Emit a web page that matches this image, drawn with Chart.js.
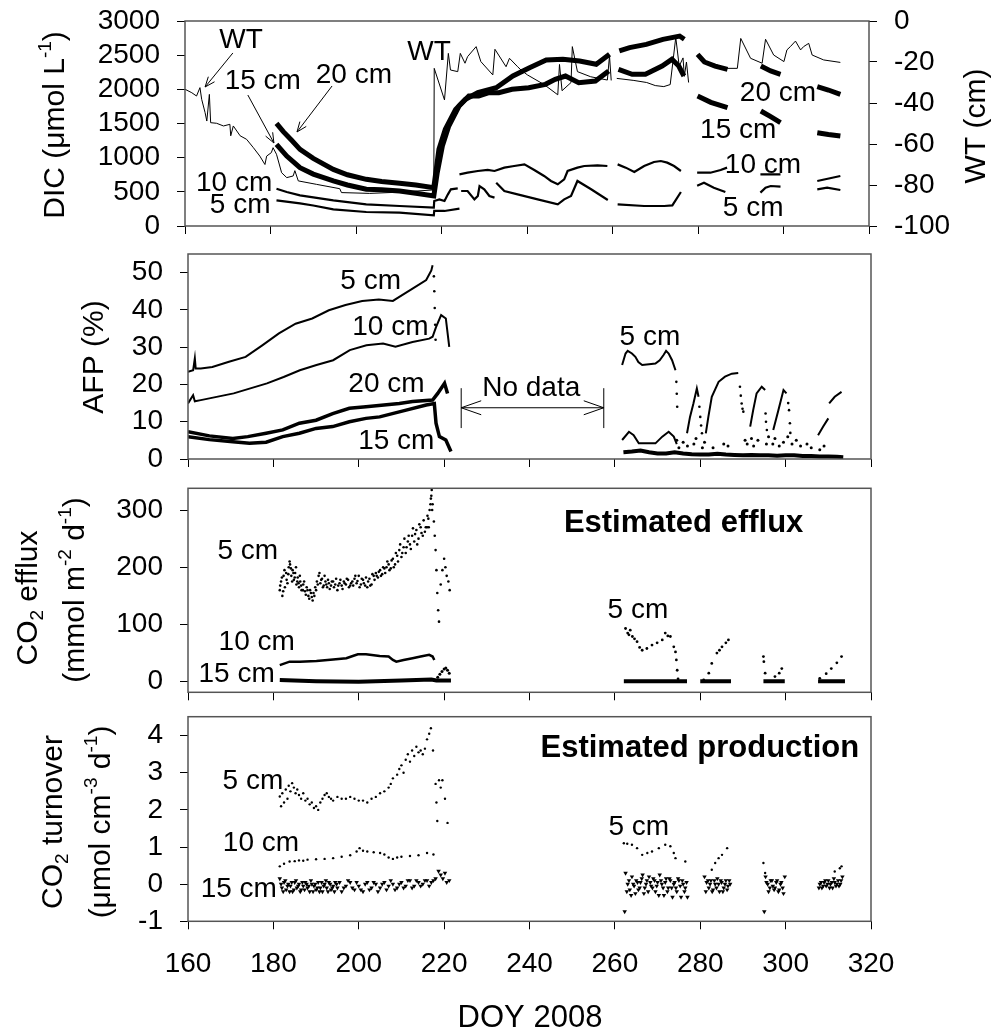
<!DOCTYPE html>
<html lang="en">
<head>
  <meta charset="UTF-8">
  <title>DIC, AFP and CO2 - DOY 2008</title>
  <script src="https://cdn.jsdelivr.net/npm/chart.js"></script>
  <style>
    body { margin: 0; background: #fff; }
    canvas.panel { position: absolute; left: 0; }
  </style>
</head>
<body>
  <canvas id="dicChart" class="panel" width="994" height="236" style="top:0px"></canvas>
  <canvas id="afpChart" class="panel" width="994" height="234" style="top:236px"></canvas>
  <canvas id="effluxChart" class="panel" width="994" height="232" style="top:470px"></canvas>
  <canvas id="prodChart" class="panel" width="994" height="334" style="top:702px"></canvas>

  <script>
    // ---------- axis ticks ----------
    const doyTicks = [160, 180, 200, 220, 240, 260, 280, 300, 320];
    const dicTicks = [0, 500, 1000, 1500, 2000, 2500, 3000];
    const wtTicks = [-100, -80, -60, -40, -20, 0];
    const afpTicks = [0, 10, 20, 30, 40, 50];
    const effluxTicks = [0, 100, 200, 300];
    const turnoverTicks = [-1, 0, 1, 2, 3, 4];

    // ---------- DIC (µmol/L) and water table (cm), [DOY, value], null = gap ----------
    const wtLevel = [
      [160,-33.3],[161.6,-35],[162.7,-36.6],[163.5,-32.5],[163.9,-38.2],[164.7,-44.7],[165.1,-48.8],[165.7,-35.8],
      [166,-49.6],[167.4,-49.9],[169,-51.2],[170.5,-50.4],[170.7,-56],[171.3,-51.2],[172.9,-56],[174.4,-57.7],
      [176,-61.8],[177.5,-65.9],[178.7,-70],[179.1,-65.9],[180.2,-64.2],[180.6,-61.8],[181.4,-65],[182.6,-74],
      [183.8,-76.4],[185.3,-75.6],[185.7,-73],[186.5,-78],[190.8,-79.7],[196.2,-81.8],[196.6,-83.7],[203.2,-84.1],
      [210,-83.5],[218.2,-82.4],[218.3,-23.1],[220.7,-38.5],[221.6,-15.8],[222.1,-23.9],[223.8,-24.7],[224.4,-15.8],
      [225.5,-20.6],[226.1,-17.4],[228.1,-12.5],[229.2,-19.8],[232,-26.3],[232.5,-13.8],[235.1,-22.3],[235.9,-18.2],
      [237.8,-22.3],[238.6,-23.9],[240.1,-26.3],[244,-31],[247.2,-36],[247.6,-21.2],[248.2,-34],[250.3,-30],
      [250.6,-12.5],[251.8,-24.7],[254.9,-27.2],[258.8,-28.8],[259.3,-17],[259.7,-29],[260.5,null],
      [261,-28],[265,-29],[268,-30],[270,-31.5],[272,-32],[273.5,-31],[274.8,-8],[275.6,-22],[276.5,-18],
      [276.8,-27],[277.3,-20],[277.8,-30],[278.8,null],
      [279.9,-16.6],[282,-20],[284.5,-21.5],[286.8,-23.1],[289.2,-23.1],[290,-8.5],[292.3,-18.2],[295,-20.6],
      [295.8,-8.9],[297.7,-16.6],[300.1,-19.8],[300.8,-14.1],[301.6,-12.5],[302.8,-9.8],[304,-14.1],[304.7,-12.5],
      [305.9,-10.9],[306.7,-16.6],[309.4,-19],[313.3,-20.2]
    ];
    const dic20 = [
      [181.4,1502],[183,1380],[185,1250],[186.9,1122],[190,990],[194.7,829],[198,750],[202.4,683],[206,650],
      [210.2,625],[214,600],[218.2,561],[219.4,1122],[220.9,1415],[223.3,1707],[225.6,1854],[228.5,1951],
      [232.8,2024],[236.7,2195],[240.6,2317],[244.5,2429],[248.4,2439],[252.3,2415],[256.2,2366],[259.3,2512],
      [260.4,null],[261.6,2561],[264,2610],[267.9,2658],[271.8,2732],[275.7,2780],[276.8,2732],[278.5,null],
      [279.9,2512],[281.5,2400],[284,2340],[286.9,2293],[290,null],[294.7,2341],[297,2270],[299.3,2220],
      [303,null],[307.9,2039],[310.5,1990],[313.3,1927]
    ];
    const dic15 = [
      [181.4,1195],[183.8,1024],[186.9,854],[190,760],[194.7,659],[198,600],[202.4,537],[206,530],[210.2,512],
      [214,480],[218.2,439],[219,780],[220.2,1171],[221.7,1463],[224.1,1756],[226.4,1902],[228.7,1902],
      [231.1,1951],[233.4,1951],[236.5,2000],[240.4,2024],[244.3,2073],[246.6,2146],[249,2195],[252.1,2098],
      [256,2122],[259.1,2268],[260.4,null],[261.4,2293],[264.6,2220],[267.7,2220],[271.6,2341],[273.9,2439],
      [275.5,2341],[276.7,2195],[278.5,null],[279.9,1902],[283,1810],[286.9,1732],[290,null],
      [294.7,1683],[297,1600],[299.3,1512],[303,null],[307.9,1366],[310.5,1340],[313.3,1317]
    ];
    const dic10 = [
      [181.4,546],[183.8,498],[186.9,449],[194.7,376],[202.4,317],[210.2,293],[218.2,268],[218.3,366],
      [219.5,390],[220.7,366],[221.5,463],[222.2,537],[223.8,551],[224,null],[224.2,756],[226.1,780],
      [228.5,805],[230.8,820],[232.4,805],[234.7,854],[237,878],[239.4,902],[241.7,820],[244,732],[245.6,659],
      [247.2,610],[248.7,683],[249.5,805],[251.8,854],[253.4,878],[256.5,888],[258.8,878],[260,null],
      [261.2,902],[263.1,854],[265.1,790],[267.4,878],[269.7,937],[271.3,951],[272.8,927],[274.4,878],[276,805],
      [278,null],[279.8,780],[282.9,780],[285.3,820],[286.8,854],[290,null],[294.6,756],[299.3,756],
      [303,null],[307.9,659],[313.3,732]
    ];
    const dic5 = [
      [181.4,376],[186.9,332],[190,300],[194.7,244],[202.4,205],[210.2,195],[218.2,156],[218.3,220],[220.7,220],
      [224.2,254],[224.4,null],[224.6,512],[226.1,512],[227.7,390],[228.5,439],[228.9,585],[230,537],[231.2,439],
      [232.4,415],[232.6,null],[232.8,634],[234.7,512],[237.8,463],[242.5,390],[247.2,317],[248.7,390],
      [250.3,439],[251.8,659],[255,537],[258.9,380],[260,null],[261.2,317],[267.4,293],[272.1,293],[274,302],
      [276,498],[278,null],[279.8,590],[281.4,634],[283.7,561],[286.4,498],[290,null],[294.6,488],[295.8,561],
      [297,585],[299.3,576],[303,null],[307.9,537],[310.2,561],[313.3,527]
    ];

    // ---------- air-filled porosity (%) ----------
    const afp5 = [
      [160,23.4],[161.2,23.8],[161.6,27],[161.8,24.3],[163,24.3],[165.7,24.7],[169.6,26.1],[173.5,27.4],
      [177.4,30.5],[181.3,33.7],[185.2,36.3],[189.1,37.7],[193,39.9],[196.9,41.3],[200.8,42.4],[204.7,42.8],
      [208,42.4],[209.5,43.5],[212.6,45.7],[215.8,48],[217,50.6],[217.3,52]
    ];
    const afp5Drop = [[217.6,49],[217.7,45],[217.8,40.5],[217.9,36],[218,32]];
    const afp10 = [
      [160,14.9],[161.2,17.1],[161.6,15.5],[163,15.8],[170.7,17.6],[178.5,20.3],[182.4,22],[186.2,23.8],
      [190.1,25.2],[194,26.5],[197.9,29.2],[201.8,30.5],[205.7,31],[208.6,30.1],[212.6,31.4],[216.5,32.3],
      [217.3,32.8],[218.1,35.4],[219.3,38.6],[220.4,37.7],[221.2,30.1]
    ];
    const afp20 = [
      [160,7.3],[165,6.2],[170.5,5.5],[174,6],[178.3,6.9],[182.2,7.8],[186.1,9.6],[190,10.4],[193.9,12.2],
      [197.8,13.6],[201.7,14],[209.5,14.9],[212.6,15.4],[217.3,15.8],[218.5,17.6],[220.1,20.3],[220.8,17.6]
    ];
    const afp15 = [
      [160,6],[165,5.2],[170.5,4.6],[174.4,4.2],[178.3,4.5],[182.2,6],[186.1,6.9],[190,8.2],[193.9,8.7],
      [197.8,10],[201.7,10.9],[204.9,11.3],[211.1,13.1],[215.8,14.5],[217.7,14.9],[218.1,9.6],[218.9,6],
      [220.4,5.1],[221.6,2]
    ];
    const afp5Late = [
      [261.7,25.2],[262.5,28.3],[263,29],[264,28.3],[264.8,27.4],[265.5,26],[266.4,25.2],[268,25.4],[269.5,25.6],
      [270.5,26.5],[271.4,27.9],[272,29],[272.6,28.3],[273.4,26.5],[274.2,23.8]
    ];
    const afp5LateDrop = [[274.4,20.7],[274.5,17.5],[274.6,14]];
    const afp10Late = [
      [261.7,5.1],[263.3,7.3],[264.4,6.4],[265.6,4.2],[269.5,4.2],[271.1,6],[272.6,7.3],[273.8,6],[274.5,4],
      [275.5,null],
      [276.9,6.9],[277.6,11.3],[278.4,14.9],[279.2,18.9],[279.6,16.7],[279.7,null],
      [281.3,6.9],[281.9,11.3],[282.7,16.7],[284.3,20.7],[285.8,22.1],[287.4,22.9],[288.9,23.1],[289.1,null],
      [291.7,8.7],[292.4,13.1],[293.2,17.6],[294.4,19.4],[295.2,18.5],[295.25,null],
      [297.1,7.8],[298.3,13.1],[299.5,18.5],[300.2,17.6],[300.4,null],
      [307.6,6.4],[308.8,8.7],[310,10.9],[310.1,null],[310.2,14.9],[311.5,16.7],[313.1,18]
    ];
    const afp10LateDrop = [
      [279.8,14],[280,11.3],[280.2,9],[280.4,6.9],[289.3,19.4],[289.5,17],[289.7,14.9],[289.9,13.5],[290.1,12.7],
      [295.3,12.2],[295.4,10],[295.6,7.8],[300.6,15],[300.8,13.1],[301,9.6],[301.1,7]
    ];
    const afpDeepLate = [
      [262,1.8],[264,2],[266,2.3],[268,1.8],[270,1.5],[272,1.5],[274,1.8],[276,1.5],[278,1.3],[280,1.2],
      [282,1.2],[284,1.4],[286,1.2],[288,1.1],[290,1],[292,1.1],[294,1],[296,1],[298,0.9],[300,1],[302,1],
      [304,0.8],[306,0.8],[308,0.7],[310,0.7],[312,0.6],[313.5,0.5]
    ];
    const afpDeepNoise = [
      [274.5,5],[275,3],[276,4.5],[277,3.5],[278.5,4],[279,5.5],[280.5,3],[281,4.5],[283,3],[285.5,4],
      [286.5,3.5],[290.5,5],[291,4],[292,5.5],[292.5,3.5],[293.5,5],[295.5,4],[296,6],[297,4],[297.5,5.5],
      [298.5,3.5],[299.5,4.5],[300.5,6],[301.5,4],[302.5,5],[303.5,3.5],[305,4],[306,3],[308,2.5],[309,3.5]
    ];

    // ---------- estimated efflux (mmol m-2 d-1) ----------
    const efflux5 = [
      [181.5,160],[181.8,175],[182.1,150],[182.4,185],[182.7,165],[183,190],[183.3,172],[183.6,200],[183.9,205],
      [184.2,185],[184.5,195],[184.8,178],[185.1,190],[185.4,170],[185.7,182],[186,165],[186.3,175],[186.6,160],
      [187,170],[187.4,158],[187.8,165],[188.2,150],[188.6,160],[189,148],[189.4,155],[189.8,165],[190.2,175],
      [190.6,185],[191,172],[191.4,180],[191.8,168],[192.2,175],[192.6,165],[193,172],[193.5,168],[194,175],
      [194.5,170],[195,160],[195.5,172],[196,168],[196.5,175],[197,170],[197.5,178],[198,168],[198.5,175],
      [199,180],[199.5,172],[200,185],[200.5,170],[201,178],[201.5,168],[202,165],[202.5,180],[203,170],
      [203.5,185],[204,190],[204.5,182],[205,195],[205.5,188],[206,198],[206.5,200],[207,205],[207.5,198],
      [208,215],[208.5,205],[209,220],[209.5,230],[210,218],[210.5,235],[211,225],[211.5,245],[212,240],
      [212.5,255],[213,245],[213.5,265],[214,250],[214.5,270],[215,255],[215.5,262],[216,270],[216.3,285],
      [216.6,300],[216.9,320],[217.1,335],[217.3,310],[217.6,280],[217.8,255],[218,230],[218.2,195],[218.4,155],
      [218.6,125],[218.8,105],[219.2,170],[219.6,195],[220,215],[220.3,200],[220.6,185],[221,175],[221.3,160],
      [181.6,168],[182,182],[182.3,158],[182.6,195],[183.1,178],[183.5,188],[183.8,210],[184.1,198],[184.4,175],
      [184.7,190],[185,182],[185.3,200],[185.6,175],[185.9,172],[186.2,185],[186.5,168],[186.9,160],[187.2,175],
      [187.6,152],[188,160],[188.4,145],[188.8,155],[189.2,142],[189.6,150],[190,160],[190.4,170],[190.8,190],
      [191.2,178],[191.6,165],[192,185],[192.4,170],[192.8,178],[193.2,162],[193.7,175],[194.2,165],[194.7,180],
      [195.2,168],[195.7,178],[196.2,162],[196.7,172],[197.2,180],[197.7,165],[198.2,172],[198.7,168],[199.2,185],
      [199.7,176],[200.2,165],[200.7,180],[201.2,172],[201.7,182],[202.2,175],[202.7,168],[203.2,188],[203.7,178],
      [204.2,185],[204.7,192],[205.2,185],[205.7,200],[206.2,190],[206.7,210],[207.2,195],[207.7,212],[208.2,200],
      [208.7,225],[209.2,210],[209.7,240],[210.2,225],[210.7,250],[211.2,235],[211.7,255],[212.2,232],[212.7,268],
      [213.2,258],[213.7,240],[214.2,275],[214.7,260],[215.2,282],[215.7,270],[216.1,290],[216.4,270],[216.8,310],
      [217,325],[217.2,300]
    ];
    const efflux10 = [
      [181.5,29],[183.8,35],[186.2,35],[190.1,36],[194,39],[197.1,41],[198.6,45],[199.8,48],[201.7,48],
      [204.9,45],[207,44],[208,38],[208.8,35],[210.5,38],[212.6,41],[214.5,44],[216.5,47],[217.3,44],[217.7,38]
    ];
    const efflux15 = [
      [181.5,3],[190,1],[200,0],[210,2],[217,4],[218.2,2],[221.6,2],[240,null],
      [262.1,1],[276.9,1],[278,null],[280,1],[287.2,1],[290,null],[294.8,1],[299.8,1],[303,null],
      [307.6,1],[313.9,1]
    ];
    const efflux15Bump = [[218.5,8],[219,13],[219.5,18],[220,22],[220.4,24],[220.8,20],[221.2,15]];
    const efflux5Late = [
      [262.5,93],[263,85],[263.3,82],[263.6,90],[264.1,79],[264.6,75],[265.2,70],[265.8,60],[266.4,55],
      [267.5,58],[268.7,64],[269.9,68],[271.1,73],[271.8,85],[272.4,80],[273,79],[273.8,61],[274.2,52],
      [274.4,38],[274.6,20],[274.8,5],
      [280.8,3],[282,15],[282.7,32],[283.9,50],[284.5,55],[285.1,61],[286,68],[286.6,73],
      [294.8,44],[294.9,35],[295.2,15],[297.5,9],[298.5,15],[299.1,23],
      [308,6],[309.5,14],[310.7,23],[312,33],[313.1,44]
    ];

    // ---------- estimated production (µmol cm-3 d-1) ----------
    const prod5 = [
      [181.5,2.36],[181.8,2.1],[182.1,2.45],[182.5,2.2],[182.9,2.55],[183.3,2.3],[183.6,2.65],[184,2.5],
      [184.4,2.72],[184.8,2.6],[185.2,2.45],[185.6,2.55],[186,2.4],[186.5,2.3],[187,2.45],[187.5,2.25],
      [188,2.3],[188.5,2.15],[189,2.2],[189.5,2.05],[190,2.1],[190.5,2],[191,2.2],[191.5,2.3],[192,2.4],
      [192.5,2.45],[193,2.35],[193.5,2.3],[194,2.25],[195,2.35],[196,2.3],[197,2.3],[198,2.35],[199,2.3],
      [200,2.25],[201,2.25],[202,2.2],[203,2.3],[204,2.35],[205,2.45],[206,2.5],[207,2.6],[207.5,2.7],
      [208,2.85],[209,2.95],[209.5,3.1],[210,3.2],[210.5,3],[211,3.35],[211.5,3.5],[212,3.3],[212.5,3.6],
      [213,3.45],[213.5,3.7],[214,3.55],[214.5,3.6],[215,3.5],[215.5,3.65],[216,3.9],[216.5,4.05],[216.9,4.2],
      [217.4,3.6],[218,2.7],[218.2,2.2],[218.4,1.7],[218.8,2.8],[219.2,2.6],[219.6,2.8],[220.2,2.3],[220.8,1.65]
    ];
    const prod10 = [
      [181.5,0.48],[182.5,0.55],[183.8,0.61],[185,0.62],[186,0.64],[187,0.63],[188,0.66],[190,0.67],
      [192,0.68],[194,0.7],[196,0.74],[198,0.78],[199.5,0.88],[200.2,0.97],[201,0.9],[202,0.88],[203.5,0.86],
      [205,0.84],[206,0.8],[207,0.72],[208,0.68],[209,0.72],[210,0.74],[212,0.76],[214,0.78],[216,0.84],[217.5,0.8]
    ];
    const prod15 = [
      [181.5,0.15],[182,-0.1],[182.5,0.05],[183,-0.15],[183.5,0],[184,-0.05],[184.5,-0.2],[185,0.05],
      [185.5,-0.1],[186,0],[186.5,-0.15],[187,-0.05],[187.5,0.05],[188,-0.1],[188.5,-0.2],[189,0],[189.5,-0.05],
      [190,-0.15],[190.5,0.05],[191,-0.1],[191.5,-0.2],[192,0],[192.5,-0.1],[193,0.05],[193.5,-0.15],
      [194,-0.05],[194.5,0.05],[195,-0.1],[196,-0.2],[197,-0.05],[198,0.05],[199,-0.15],[200,-0.05],[201,-0.2],
      [202,0.05],[203,-0.1],[204,0],[205,-0.1],[206,0.05],[207,-0.05],[208,0],[209,-0.1],[210,0.05],
      [211,-0.05],[212,0.1],[213,-0.05],[214,0.05],[215,0],[216,0.1],[217,0.05],[218,0.15],[218.7,0.35],
      [219.2,0.25],[219.7,0.15],[220.2,0.3],[220.6,0.05],[221.2,0.1],
      [181.8,0],[182.3,-0.2],[182.8,0.1],[183.3,-0.05],[183.8,-0.2],[184.3,0.05],[184.8,-0.15],[185.3,0.1],
      [185.8,-0.05],[186.3,-0.2],[186.8,0.05],[187.3,-0.15],[187.8,0],[188.3,-0.05],[188.8,0.1],[189.3,-0.2],
      [189.8,0],[190.3,-0.1],[190.8,-0.2],[191.3,0.05],[191.8,-0.05],[192.3,0.1],[192.8,-0.2],[193.3,0],
      [193.8,-0.1],[194.3,-0.2],[194.8,0],[195.5,0.05],[196.5,-0.1],[197.5,0.1],[198.5,-0.1],[199.5,0.05],
      [200.5,-0.15],[201.5,0],[202.5,-0.15],[203.5,0.05],[204.5,-0.2],[205.5,0],[206.5,-0.15],[207.5,0.1],
      [208.5,-0.15],[209.5,0],[210.5,-0.1],[211.5,0.1],[212.5,-0.1],[213.5,0.1],[214.5,-0.05],[215.5,0.1],
      [216.5,-0.05],[217.5,0.1]
    ];
    const prod5Late = [
      [262.1,1.1],[262.9,1.09],[264,1.06],[265.2,0.97],[266.4,0.79],[267.6,0.84],[268.7,0.88],[270.3,0.97],
      [271.8,1.06],[273,1.02],[273.8,0.84],[274.2,0.7],[276.5,0.61],
      [282.7,0.39],[283.5,0.57],[284.3,0.7],[285.1,0.79],[286.3,0.97],
      [294.8,0.57],[295.2,0.3],[311.5,0.34],[312.7,0.43],[313.1,0.48]
    ];
    const prod15Late = [
      [262.3,-0.74],[262.5,0.3],[263,0],[263.5,-0.15],[264,0.2],[264.5,-0.05],[265,0.1],[265.5,-0.15],[266,0.05],
      [266.5,0.25],[267,-0.1],[267.5,0.1],[268,0.2],[268.5,-0.05],[269,0.15],[269.5,-0.2],[270,0.05],[270.5,0.25],
      [271,0],[271.5,-0.3],[272,0.15],[272.5,-0.1],[273,0.1],[273.5,-0.35],[274,0.05],[274.5,-0.2],[275,0.1],
      [275.5,-0.35],[276,0],[276.5,-0.1],[277,-0.35],
      [281,0.2],[281.5,0.05],[282,-0.1],[282.5,0.1],[283,-0.15],[283.5,0],[284,0.15],[284.5,-0.2],[285,0.05],
      [285.5,-0.1],[286,0.1],[286.5,-0.05],[287,0],
      [295,-0.74],[295.3,0.2],[295.8,0],[296.3,-0.1],[296.8,0.1],[297.3,-0.15],[297.8,0.05],[298.3,-0.2],
      [298.8,0],[299.3,-0.1],[299.8,0.2],
      [307.8,-0.1],[308.3,0.05],[308.8,-0.05],[309.3,0.1],[309.8,0],[310.3,-0.1],[310.8,0.05],[311.3,0.15],
      [311.8,-0.05],[312.3,0.1],[312.8,0],[313.3,0.2],
      [262.8,-0.2],[263.3,0.1],[263.8,-0.3],[264.3,0],[264.8,-0.25],[265.3,0.05],[265.8,-0.1],[266.3,0.15],
      [266.8,-0.25],[267.3,0],[267.8,-0.2],[268.3,0.05],[268.8,-0.1],[269.3,0.1],[269.8,-0.05],[270.3,-0.3],
      [270.8,0.1],[271.3,-0.1],[271.8,0.05],[272.3,-0.2],[272.8,0.15],[273.3,-0.1],[273.8,0],[274.3,-0.1],
      [274.8,0.15],[275.3,-0.05],[275.8,0.1],[276.3,-0.2],[276.8,0.05],
      [281.3,-0.2],[281.8,0.1],[282.3,0],[282.8,-0.2],[283.3,0.1],[283.8,-0.1],[284.3,0],[284.8,0.1],
      [285.3,-0.2],[285.8,0],[286.3,-0.15],[286.8,0.1],
      [295.5,0.05],[296,-0.2],[296.5,0.1],[297,-0.05],[297.5,-0.1],[298,0.1],[298.5,-0.15],[299,0.05],[299.5,-0.25],
      [308,0],[308.5,-0.1],[309,0.05],[309.5,-0.05],[310,0.1],[310.5,0],[311,-0.1],[311.5,0.05],[312,0],
      [312.5,-0.05],[313,0.1]
    ];

    // ---------- shared setup ----------
    const FONT = "'Liberation Sans', Arial, Helvetica, sans-serif";
    Chart.defaults.font.family = FONT;
    Chart.defaults.font.size = 28;
    Chart.defaults.color = '#000';
    Chart.defaults.animation = false;

    const pts = list => list.map(p => ({ x: p[0], y: p[1] }));

    function lineSet(list, width, axis) {
      return {
        data: pts(list), showLine: true, borderColor: '#000', borderWidth: width,
        pointRadius: 0, spanGaps: false, yAxisID: axis || 'y'
      };
    }
    function dotSet(list, r, style) {
      return {
        data: pts(list), showLine: false, pointRadius: r, pointStyle: style || 'circle',
        rotation: style === 'triangle' ? 180 : 0,
        backgroundColor: '#000', borderColor: '#000', borderWidth: 0
      };
    }

    function xAxis(height, showLabels) {
      return {
        type: 'linear', min: 160, max: 320,
        afterBuildTicks: s => { s.ticks = doyTicks.map(v => ({ value: v })); },
        afterFit: s => { s.height = height; s.paddingLeft = 0; s.paddingRight = 0; },
        grid: { drawOnChartArea: false, drawTicks: true, tickLength: 8, color: '#000', lineWidth: 1 },
        border: { display: false },
        ticks: { display: showLabels, padding: 18, maxRotation: 0, autoSkip: false, callback: v => String(v) }
      };
    }
    function yAxis(min, max, tickList, width, position) {
      return {
        type: 'linear', min: min, max: max, position: position || 'left',
        afterBuildTicks: s => { s.ticks = tickList.map(v => ({ value: v })); },
        afterFit: s => { s.width = width; s.paddingTop = 0; s.paddingBottom = 0; },
        grid: { drawOnChartArea: false, drawTicks: true, tickLength: 8, color: '#000', lineWidth: 1 },
        border: { display: false },
        ticks: { padding: 17, autoSkip: false, callback: v => String(v) }
      };
    }

    // rotated axis titles with sub/superscripts: parts = [[text, ''|'sup'|'sub'], ...]
    function drawRich(ctx, t) {
      const size = t.size || 30;
      const small = Math.round(size * 0.62);
      const fontFor = m => (m ? small : size) + 'px ' + FONT;
      let w = 0;
      t.parts.forEach(([s, m]) => { ctx.font = fontFor(m); w += ctx.measureText(s).width; });
      ctx.save();
      ctx.translate(t.x, t.y);
      if (t.rot) ctx.rotate(t.rot);
      ctx.textAlign = 'left';
      ctx.textBaseline = 'middle';
      ctx.fillStyle = '#000';
      let cx = -w / 2;
      t.parts.forEach(([s, m]) => {
        ctx.font = fontFor(m);
        const dy = m === 'sup' ? -size * 0.33 : (m === 'sub' ? size * 0.3 : 0);
        ctx.fillText(s, cx, dy);
        cx += ctx.measureText(s).width;
      });
      ctx.restore();
    }

    function arrowHead(ctx, x1, y1, x2, y2, len, half) {
      const a = Math.atan2(y2 - y1, x2 - x1);
      const bx = x2 - len * Math.cos(a), by = y2 - len * Math.sin(a);
      ctx.beginPath();
      ctx.moveTo(bx - half * Math.sin(a), by + half * Math.cos(a));
      ctx.lineTo(x2, y2);
      ctx.lineTo(bx + half * Math.sin(a), by - half * Math.cos(a));
      ctx.stroke();
    }

    // frame, in-plot labels, arrows and axis titles
    const panelDecor = {
      id: 'panelDecor',
      afterDatasetsDraw(chart, args, opts) {
        const ctx = chart.ctx, a = chart.chartArea;
        const xs = chart.scales.x, ys = chart.scales.y;
        ctx.save();
        ctx.strokeStyle = '#555';
        ctx.lineWidth = 1.5;
        ctx.strokeRect(a.left, a.top, a.right - a.left, a.bottom - a.top);

        ctx.strokeStyle = '#000';
        ctx.lineWidth = 1;
        (opts.arrows || []).forEach(ar => {
          const x1 = xs.getPixelForValue(ar.from[0]), y1 = ys.getPixelForValue(ar.from[1]);
          const x2 = xs.getPixelForValue(ar.to[0]), y2 = ys.getPixelForValue(ar.to[1]);
          ctx.beginPath(); ctx.moveTo(x1, y1); ctx.lineTo(x2, y2); ctx.stroke();
          arrowHead(ctx, x1, y1, x2, y2, ar.len || 10, ar.half || 4);
          if (ar.both) arrowHead(ctx, x2, y2, x1, y1, ar.len || 10, ar.half || 4);
          if (ar.bars) {
            const b1 = ys.getPixelForValue(ar.bars[0]), b2 = ys.getPixelForValue(ar.bars[1]);
            ctx.beginPath();
            ctx.moveTo(x1, b1); ctx.lineTo(x1, b2);
            ctx.moveTo(x2, b1); ctx.lineTo(x2, b2);
            ctx.stroke();
          }
        });

        ctx.fillStyle = '#000';
        ctx.textAlign = 'center';
        ctx.textBaseline = 'middle';
        (opts.labels || []).forEach(l => {
          ctx.font = (l.bold ? 'bold ' : '') + (l.size || 28) + 'px ' + FONT;
          ctx.fillText(l.text, xs.getPixelForValue(l.x), ys.getPixelForValue(l.y));
        });
        (opts.titles || []).forEach(t => drawRich(ctx, t));
        ctx.restore();
      }
    };

    function makePanel(id, datasets, scales, padding, decor) {
      return new Chart(document.getElementById(id), {
        type: 'scatter',
        data: { datasets: datasets },
        options: {
          responsive: false,
          animation: false,
          events: [],
          layout: { padding: padding, autoPadding: false },
          scales: scales,
          plugins: { legend: { display: false }, tooltip: { enabled: false }, panelDecor: decor }
        },
        plugins: [panelDecor]
      });
    }

    const UP = -Math.PI / 2;

    // ---------- DIC / WT ----------
    makePanel('dicChart', [
      lineSet(wtLevel, 1, 'wt'),
      lineSet(dic5, 2.2),
      lineSet(dic10, 2.2),
      lineSet(dic15, 5),
      lineSet(dic20, 5)
    ], {
      x: xAxis(10, false),
      y: yAxis(0, 3000, dicTicks, 185),
      wt: yAxis(-100, 0, wtTicks, 125, 'right')
    }, { top: 21, left: 0, right: 0, bottom: 0 }, {
      labels: [
        { text: 'WT', x: 173.1, y: 2722 },
        { text: '15 cm', x: 178.2, y: 2122 },
        { text: '20 cm', x: 199.5, y: 2210 },
        { text: '10 cm', x: 171.5, y: 629 },
        { text: '5 cm', x: 172.9, y: 307 },
        { text: 'WT', x: 217.1, y: 2546 },
        { text: '20 cm', x: 298.7, y: 1946 },
        { text: '15 cm', x: 289.4, y: 1405 },
        { text: '10 cm', x: 295.2, y: 893 },
        { text: '5 cm', x: 292.9, y: 263 }
      ],
      arrows: [
        { from: [171.2, 2532], to: [164.7, 2034] },
        { from: [174.7, 1917], to: [180.8, 1215] },
        { from: [194.4, 2049], to: [186.2, 1376] }
      ],
      titles: [
        { x: 56, y: 125, rot: UP, parts: [['DIC (\u03bcmol L', ''], ['-1', 'sup'], [')', '']] },
        { x: 977, y: 126, rot: UP, parts: [['WT (cm)', '']] }
      ]
    });

    // ---------- AFP ----------
    makePanel('afpChart', [
      lineSet(afp5, 2),
      dotSet(afp5Drop, 1.3),
      lineSet(afp10, 2),
      lineSet(afp20, 3.5),
      lineSet(afp15, 3.5),
      lineSet(afp5Late, 2),
      dotSet(afp5LateDrop, 1.3),
      lineSet(afp10Late, 2),
      dotSet(afp10LateDrop, 1.3),
      lineSet(afpDeepLate, 4),
      dotSet(afpDeepNoise, 1.5)
    ], {
      x: xAxis(11, false),
      y: yAxis(0, 55, afpTicks, 188)
    }, { top: 18, left: 0, right: 123, bottom: 0 }, {
      labels: [
        { text: '5 cm', x: 202.8, y: 47.7 },
        { text: '10 cm', x: 207.4, y: 35.4 },
        { text: '20 cm', x: 206.5, y: 20.1 },
        { text: '15 cm', x: 208.8, y: 4.8 },
        { text: '5 cm', x: 268.2, y: 32.7 },
        { text: 'No data', x: 240.4, y: 19.0 }
      ],
      arrows: [
        { from: [224.0, 13.75], to: [257.4, 13.75], both: true, len: 20, half: 7, bars: [19.0, 8.3] }
      ],
      titles: [
        { x: 95, y: 121, rot: UP, parts: [['AFP (%)', '']] }
      ]
    });

    // ---------- estimated efflux ----------
    makePanel('effluxChart', [
      dotSet(efflux5, 1.3),
      lineSet(efflux10, 2.5),
      lineSet(efflux15, 4),
      dotSet(efflux15Bump, 1.5),
      dotSet(efflux5Late, 1.4)
    ], {
      x: xAxis(9.7, false),
      y: yAxis(-18.5, 338, effluxTicks, 188)
    }, { top: 18.3, left: 0, right: 123, bottom: 0 }, {
      labels: [
        { text: '5 cm', x: 174, y: 228.5 },
        { text: '10 cm', x: 176.1, y: 69.4 },
        { text: '15 cm', x: 171.4, y: 13.5 },
        { text: '5 cm', x: 265.4, y: 125.3 },
        { text: 'Estimated efflux', x: 276.1, y: 275.7, bold: true, size: 31 }
      ],
      titles: [
        { x: 29, y: 128, rot: UP, parts: [['CO', ''], ['2', 'sub'], [' efflux', '']] },
        { x: 76, y: 120, rot: UP, parts: [['(mmol m', ''], ['-2', 'sup'], [' d', ''], ['-1', 'sup'], [')', '']] }
      ]
    });

    // ---------- estimated production ----------
    makePanel('prodChart', [
      dotSet(prod5, 1.2),
      dotSet(prod10, 1.2),
      dotSet(prod15, 2.6, 'triangle'),
      dotSet(prod5Late, 1.2),
      dotSet(prod15Late, 2.6, 'triangle')
    ], {
      x: xAxis(114.7, true),
      y: yAxis(-1, 4.51, turnoverTicks, 188)
    }, { top: 14.7, left: 0, right: 123, bottom: 0 }, {
      labels: [
        { text: '5 cm', x: 175.2, y: 2.78 },
        { text: '10 cm', x: 177.1, y: 1.09 },
        { text: '15 cm', x: 171.9, y: -0.15 },
        { text: '5 cm', x: 265.6, y: 1.52 },
        { text: 'Estimated production', x: 279.9, y: 3.65, bold: true, size: 31 }
      ],
      titles: [
        { x: 54, y: 120, rot: UP, parts: [['CO', ''], ['2', 'sub'], [' turnover', '']] },
        { x: 102, y: 120, rot: UP, parts: [['(\u03bcmol cm', ''], ['-3', 'sup'], [' d', ''], ['-1', 'sup'], [')', '']] },
        { x: 530, y: 316, size: 31, parts: [['DOY 2008', '']] }
      ]
    });
  </script>
</body>
</html>
